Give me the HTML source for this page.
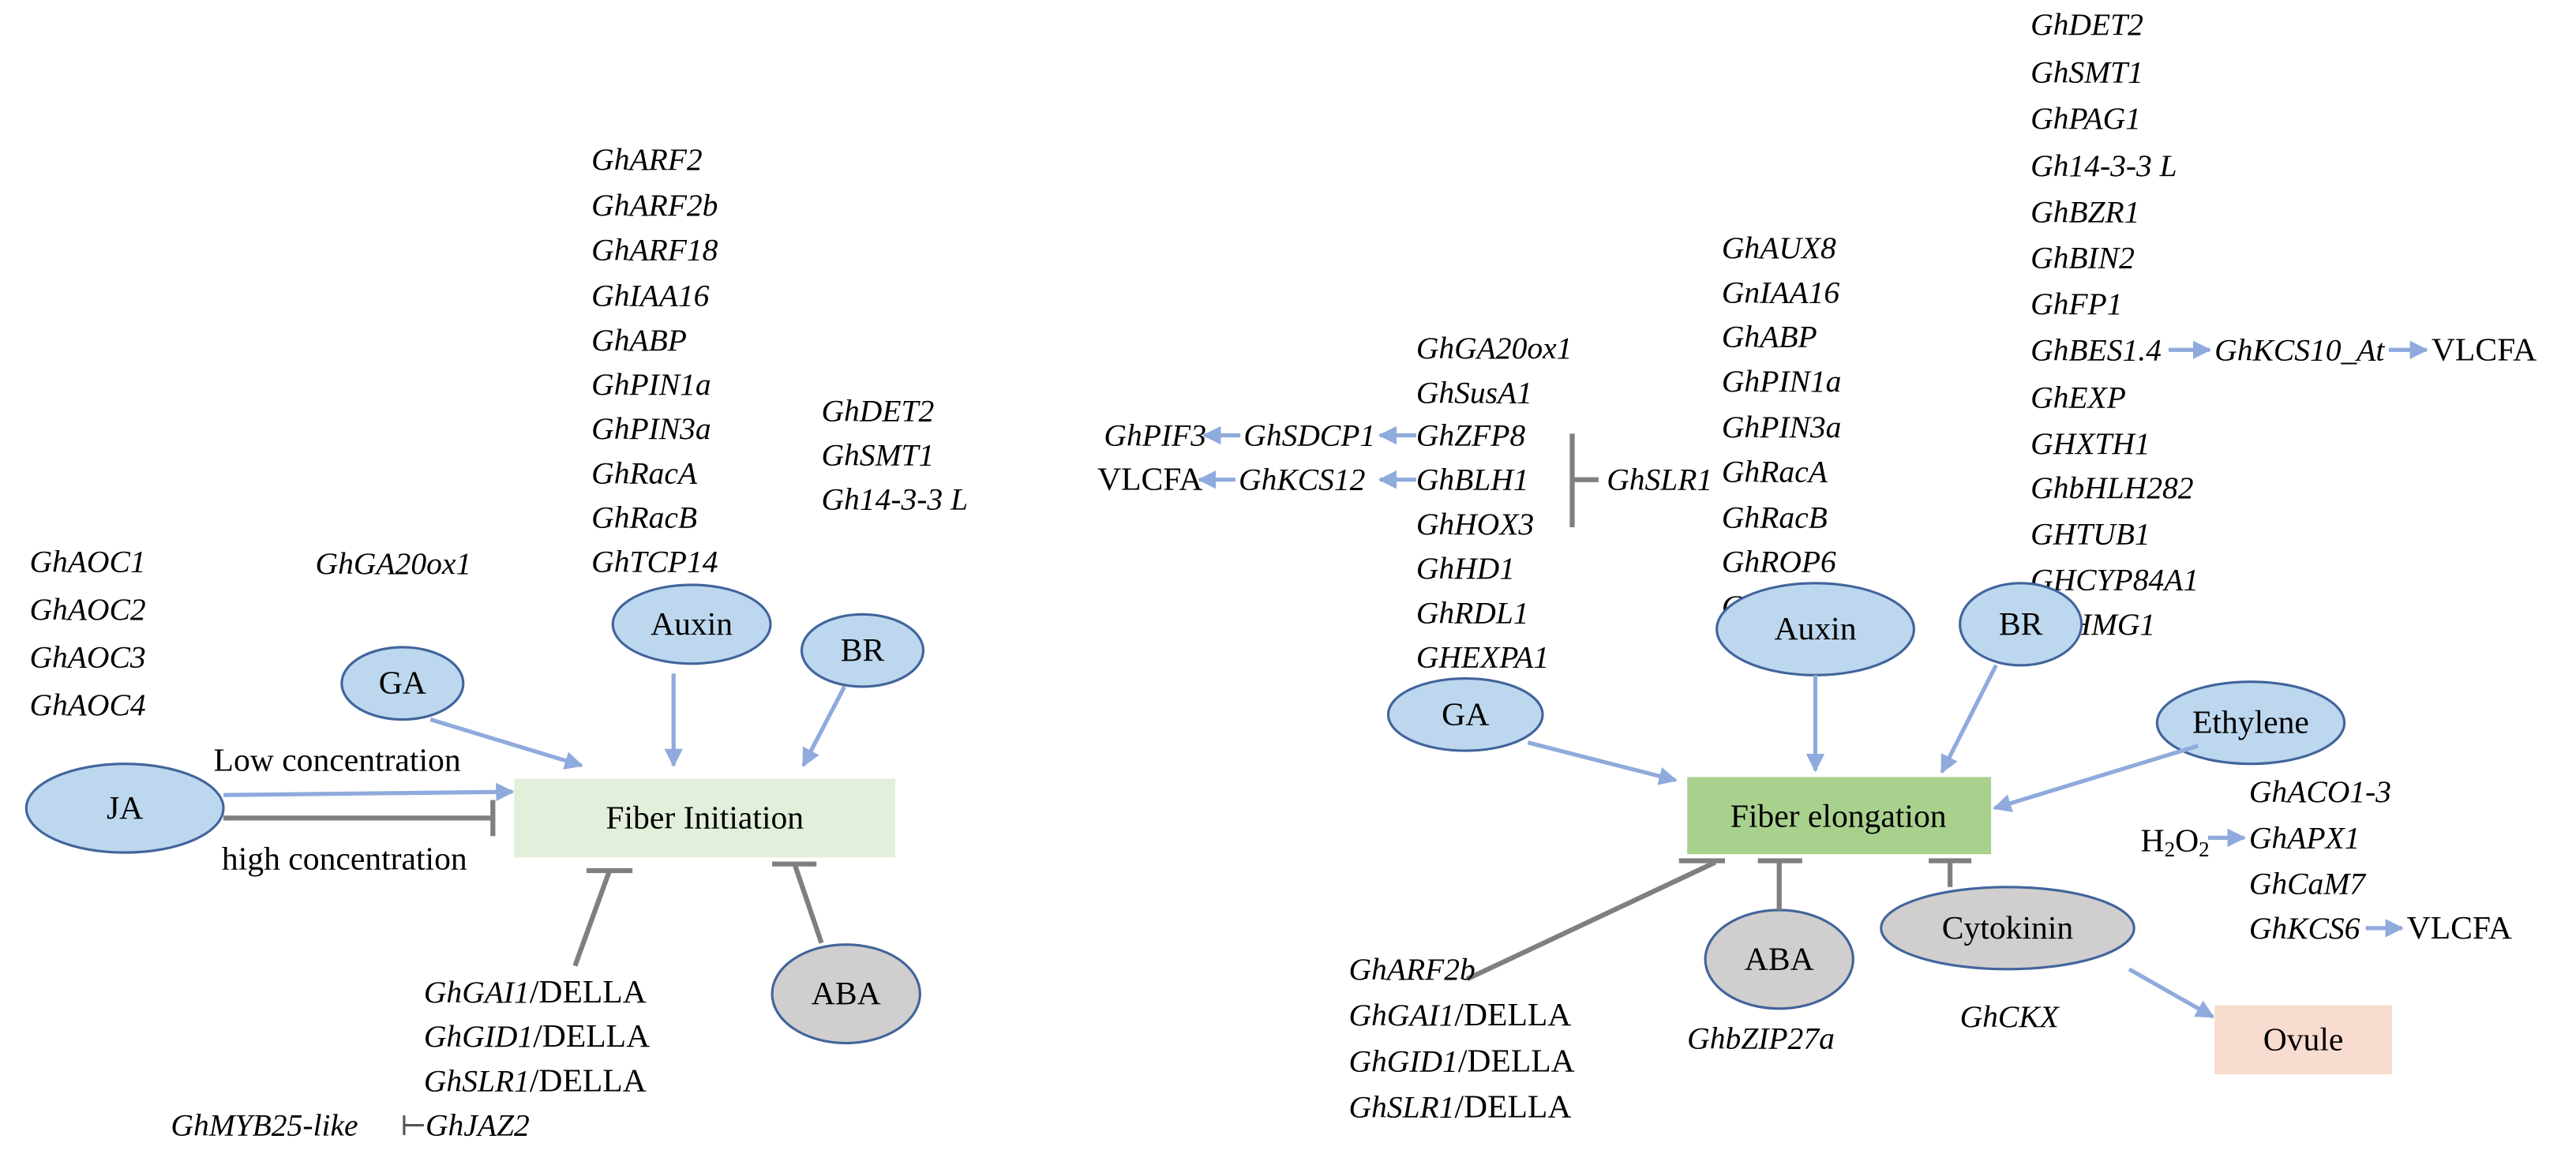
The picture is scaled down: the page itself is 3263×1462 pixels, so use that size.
<!DOCTYPE html>
<html><head><meta charset="utf-8"><style>
html,body{margin:0;padding:0;background:#fff;}
svg{display:block;}
text{font-family:"Liberation Serif",serif;font-size:20px;fill:#000;dominant-baseline:central;}
.i{font-style:italic;font-size:19px;}
tspan.i{font-size:19px;}
.e{fill:#bdd7ee;stroke:#41649b;stroke-width:1.5;}
.g{fill:#d0cece;stroke:#41649b;stroke-width:1.5;}
.a{stroke:#8faadc;stroke-width:2.5;fill:none;marker-end:url(#ar);}
.t{stroke:#7f7f7f;stroke-width:3;fill:none;}
.c{text-anchor:middle;}
</style></head><body>
<svg width="3263" height="1462" viewBox="0 0 1568 702.5" preserveAspectRatio="none" xmlns="http://www.w3.org/2000/svg">
<defs><marker id="ar" viewBox="0 0 10 10" refX="9" refY="5" markerWidth="4.5" markerHeight="4.5" orient="auto"><path d="M0,0L10,5L0,10z" fill="#8faadc"/></marker></defs>

<!-- LEFT -->
<text class="i" x="18" y="342">GhAOC1</text>
<text class="i" x="18" y="371">GhAOC2</text>
<text class="i" x="18" y="400">GhAOC3</text>
<text class="i" x="18" y="429">GhAOC4</text>
<ellipse class="e" cx="76" cy="492" rx="60" ry="27"/><text class="c" x="76" y="492">JA</text>
<text x="130" y="463">Low concentration</text>
<text x="135" y="523">high concentration</text>
<line class="a" x1="136" y1="484" x2="312" y2="482"/>
<line class="t" x1="136" y1="498" x2="299" y2="498"/><line class="t" x1="300" y1="487" x2="300" y2="509"/>
<rect x="313" y="474" width="232" height="48" fill="#e2efda"/>
<text class="c" x="429" y="498">Fiber Initiation</text>

<text class="i" x="192" y="343">GhGA20ox1</text>
<ellipse class="e" cx="245" cy="416" rx="37" ry="22"/><text class="c" x="245" y="416">GA</text>
<line class="a" x1="262" y1="438" x2="354" y2="466"/>

<text class="i" x="360" y="97">GhARF2</text>
<text class="i" x="360" y="125">GhARF2b</text>
<text class="i" x="360" y="152">GhARF18</text>
<text class="i" x="360" y="180">GhIAA16</text>
<text class="i" x="360" y="207">GhABP</text>
<text class="i" x="360" y="234">GhPIN1a</text>
<text class="i" x="360" y="261">GhPIN3a</text>
<text class="i" x="360" y="288">GhRacA</text>
<text class="i" x="360" y="315">GhRacB</text>
<text class="i" x="360" y="342">GhTCP14</text>
<ellipse class="e" cx="421" cy="380" rx="48" ry="24"/><text class="c" x="421" y="380">Auxin</text>
<line class="a" x1="410" y1="410" x2="410" y2="466"/>

<text class="i" x="500" y="250">GhDET2</text>
<text class="i" x="500" y="277">GhSMT1</text>
<text class="i" x="500" y="304">Gh14-3-3 L</text>
<ellipse class="e" cx="525" cy="396" rx="37" ry="22"/><text class="c" x="525" y="396">BR</text>
<line class="a" x1="514" y1="418" x2="489" y2="466"/>

<line class="t" x1="350" y1="588" x2="371" y2="530"/><line class="t" x1="357" y1="530" x2="385" y2="530"/>
<ellipse class="g" cx="515" cy="605" rx="45" ry="30"/><text class="c" x="515" y="605">ABA</text>
<line class="t" x1="500" y1="574" x2="484" y2="527"/><line class="t" x1="470" y1="526" x2="497" y2="526"/>

<text x="258" y="604"><tspan class="i">GhGAI1</tspan>/DELLA</text>
<text x="258" y="631"><tspan class="i">GhGID1</tspan>/DELLA</text>
<text x="258" y="658"><tspan class="i">GhSLR1</tspan>/DELLA</text>
<text class="i" x="104" y="685">GhMYB25-like</text>
<line x1="246" y1="685" x2="258" y2="685" stroke="#555" stroke-width="1.5"/><line x1="246" y1="679" x2="246" y2="691" stroke="#555" stroke-width="1.5"/>
<text class="i" x="259" y="685">GhJAZ2</text>

<!-- RIGHT -->
<text class="i" x="1236" y="15">GhDET2</text>
<text class="i" x="1236" y="44">GhSMT1</text>
<text class="i" x="1236" y="72">GhPAG1</text>
<text class="i" x="1236" y="101">Gh14-3-3 L</text>
<text class="i" x="1236" y="129">GhBZR1</text>
<text class="i" x="1236" y="157">GhBIN2</text>
<text class="i" x="1236" y="185">GhFP1</text>
<text class="i" x="1236" y="213">GhBES1.4</text>
<line class="a" x1="1320" y1="213" x2="1345" y2="213"/>
<text class="i" x="1348" y="213">GhKCS10_At</text>
<line class="a" x1="1454" y1="213" x2="1477" y2="213"/>
<text x="1480" y="213">VLCFA</text>
<text class="i" x="1236" y="242">GhEXP</text>
<text class="i" x="1236" y="270">GHXTH1</text>
<text class="i" x="1236" y="297">GhbHLH282</text>
<text class="i" x="1236" y="325">GHTUB1</text>
<text class="i" x="1236" y="353">GHCYP84A1</text>
<text class="i" x="1236" y="380">GhHMG1</text>

<text class="i" x="1048" y="151">GhAUX8</text>
<text class="i" x="1048" y="178">GnIAA16</text>
<text class="i" x="1048" y="205">GhABP</text>
<text class="i" x="1048" y="232">GhPIN1a</text>
<text class="i" x="1048" y="260">GhPIN3a</text>
<text class="i" x="1048" y="287">GhRacA</text>
<text class="i" x="1048" y="315">GhRacB</text>
<text class="i" x="1048" y="342">GhROP6</text>
<text class="i" x="1048" y="369">GhTCP14</text>

<text class="i" x="862" y="212">GhGA20ox1</text>
<text class="i" x="862" y="239">GhSusA1</text>
<text class="i" x="862" y="265">GhZFP8</text>
<text class="i" x="862" y="292">GhBLH1</text>
<text class="i" x="862" y="319">GhHOX3</text>
<text class="i" x="862" y="346">GhHD1</text>
<text class="i" x="862" y="373">GhRDL1</text>
<text class="i" x="862" y="400">GHEXPA1</text>
<text class="i" x="672" y="265">GhPIF3</text>
<line class="a" x1="755" y1="265" x2="733" y2="265"/>
<text class="i" x="757" y="265">GhSDCP1</text>
<line class="a" x1="862" y1="265" x2="840" y2="265"/>
<text x="668" y="292">VLCFA</text>
<line class="a" x1="752" y1="292" x2="730" y2="292"/>
<text class="i" x="754" y="292">GhKCS12</text>
<line class="a" x1="862" y1="292" x2="840" y2="292"/>
<line class="t" x1="957" y1="264" x2="957" y2="321"/><line class="t" x1="957" y1="292" x2="973" y2="292"/>
<text class="i" x="978" y="292">GhSLR1</text>

<ellipse class="e" cx="892" cy="435" rx="47" ry="22"/><text class="c" x="892" y="435">GA</text>
<line class="a" x1="930" y1="452" x2="1020" y2="475"/>
<ellipse class="e" cx="1105" cy="383" rx="60" ry="28"/><text class="c" x="1105" y="383">Auxin</text>
<line class="a" x1="1105" y1="411" x2="1105" y2="469"/>
<ellipse class="e" cx="1230" cy="380" rx="37" ry="25"/><text class="c" x="1230" y="380">BR</text>
<line class="a" x1="1215" y1="405" x2="1182" y2="470"/>
<ellipse class="e" cx="1370" cy="440" rx="57" ry="25"/><text class="c" x="1370" y="440">Ethylene</text>
<line class="a" x1="1338" y1="454" x2="1214" y2="492"/>

<rect x="1027" y="473" width="185" height="47" fill="#a9d18e"/>
<text class="c" x="1119" y="497">Fiber elongation</text>

<line class="t" x1="893" y1="596" x2="1044" y2="525"/><line class="t" x1="1022" y1="524" x2="1050" y2="524"/>
<ellipse class="g" cx="1083" cy="584" rx="45" ry="30"/><text class="c" x="1083" y="584">ABA</text>
<line class="t" x1="1083" y1="554" x2="1083" y2="525"/><line class="t" x1="1070" y1="524" x2="1097" y2="524"/>
<ellipse class="g" cx="1222" cy="565" rx="77" ry="25"/><text class="c" x="1222" y="565">Cytokinin</text>
<line class="t" x1="1187" y1="540" x2="1187" y2="525"/><line class="t" x1="1174" y1="524" x2="1200" y2="524"/>

<text class="i" x="821" y="590">GhARF2b</text>
<text x="821" y="618"><tspan class="i">GhGAI1</tspan>/DELLA</text>
<text x="821" y="646"><tspan class="i">GhGID1</tspan>/DELLA</text>
<text x="821" y="674"><tspan class="i">GhSLR1</tspan>/DELLA</text>
<text class="i" x="1027" y="632">GhbZIP27a</text>
<text class="i" x="1193" y="619">GhCKX</text>

<rect x="1348" y="612" width="108" height="42" fill="#f8dcd0"/>
<text class="c" x="1402" y="633">Ovule</text>
<line class="a" x1="1296" y1="590" x2="1347" y2="619"/>

<text class="i" x="1369" y="482">GhACO1-3</text>
<text x="1303" y="512">H<tspan font-size="13" dy="5">2</tspan><tspan dy="-5">O</tspan><tspan font-size="13" dy="5">2</tspan></text>
<line class="a" x1="1344" y1="510" x2="1366" y2="510"/>
<text class="i" x="1369" y="510">GhAPX1</text>
<text class="i" x="1369" y="538">GhCaM7</text>
<text class="i" x="1369" y="565">GhKCS6</text>
<line class="a" x1="1440" y1="565" x2="1462" y2="565"/>
<text x="1465" y="565">VLCFA</text>
</svg>
</body></html>
